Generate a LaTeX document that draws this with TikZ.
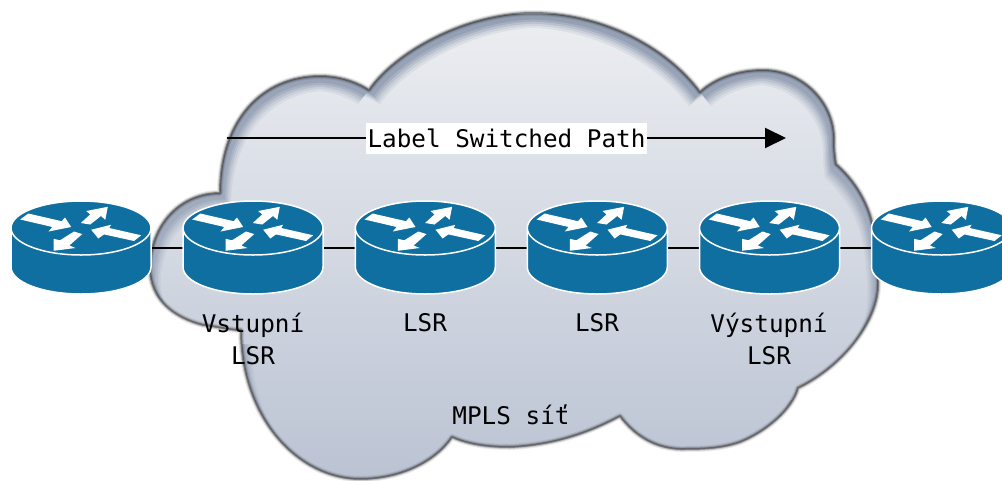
\documentclass[tikz,border=0pt]{standalone}
\usepackage{fontspec}
\setmonofont{DejaVu Sans Mono}
\usetikzlibrary{arrows.meta}
\definecolor{routerblue}{HTML}{0F6FA0}
\definecolor{cloudtop}{HTML}{ECEEF1}
\definecolor{cloudbot}{HTML}{BBC3D3}
\definecolor{bevtop}{HTML}{939FB3}
\definecolor{bevbot}{HTML}{B4BCCD}
\def\cloudpath{(369,90) .. controls (395,52) and (465,13) .. (533,13)
 .. controls (600,13) and (665,45) .. (700,92)
 .. controls (715,78) and (738,70) .. (763,70)
 .. controls (805,70) and (835,105) .. (834,140)
 .. controls (834,150) and (835,158) .. (836,164)
 .. controls (852,178) and (866,198) .. (872,222)
 .. controls (877,245) and (879,270) .. (878,287)
 .. controls (877,320) and (845,365) .. (798,388)
 .. controls (792,410) and (765,432) .. (740,442)
 .. controls (720,449) and (700,449) .. (680,449)
 .. controls (655,448) and (635,436) .. (620,416)
 .. controls (590,432) and (555,445) .. (510,447)
 .. controls (490,447) and (470,445) .. (452,437)
 .. controls (435,462) and (400,479) .. (360,479)
 .. controls (300,479) and (241,420) .. (241,330)
 .. controls (228,330) and (215,326) .. (203,325)
 .. controls (175,318) and (150,300) .. (150,268)
 .. controls (150,225) and (180,193) .. (220,193)
 .. controls (220,120) and (262,76) .. (320,76)
 .. controls (338,76) and (355,81) .. (369,90) -- cycle}
\tikzset{
 routerbox/.style={minimum width=140pt,minimum height=93pt,inner sep=0pt},
 caption/.style={font=\ttfamily\fontsize{24.3}{32}\selectfont,align=center,inner sep=0pt,text=black},
 link/.style={draw=black,line width=2pt},
 lsplabel/.style={font=\ttfamily\fontsize{24.3}{30}\selectfont,fill=white,inner xsep=1.5pt,inner ysep=0pt,minimum height=31pt,text=black},
 lspline/.style={draw=black,line width=2pt}
}
\newcommand{\routerart}[1]{%
 \begin{scope}[shift={(#1)}]
  \fill[routerblue,draw=white,line width=1.5pt] (-70,-19.5) -- (-70,19.5)
    .. controls (-70,34.5) and (-38.7,46.5) .. (0,46.5)
    .. controls (38.7,46.5) and (70,34.5) .. (70,19.5) -- (70,-19.5) -- cycle;
  \fill[routerblue,draw=white,line width=1.5pt] (0,-19.5) ellipse [x radius=70pt,y radius=27pt];
  \begin{scope}[shift={(0,-19.5)}]
  \fill[white] (-60.8,-8.5) -- (-52.7,-14.5) -- (-19.3,-6.8) -- (-16,-10.5) -- (-9.8,-1) -- (-32.5,3.5) -- (-28.7,-1) -- cycle;
  \fill[white] (-0.2,-5) -- (9.2,-13.6) -- (5.2,-17) -- (26.8,-21.2) -- (24.3,-8.2) -- (20,-12) -- (9.2,-3.5) -- cycle;
  \fill[white] (10.2,1.7) -- (30,-3.2) -- (28.3,0) -- (60.2,7.3) -- (53,13) -- (23,6.4) -- (17.3,10.5) -- cycle;
  \fill[white] (-27.5,22.8) -- (-27.5,10.8) -- (-21,12.3) -- (-7,3.5) -- (1.2,6.1) -- (-11.7,17.5) -- (-5.5,20) -- cycle;
  \end{scope}
 \end{scope}}
\begin{document}
\begin{tikzpicture}[x=1pt,y=-1pt]
\useasboundingbox (0,0) rectangle (1002,480);
\clip (0,0) rectangle (1002,480);
% cloud body
\begin{scope}
 \clip \cloudpath;
 \shade[top color=bevtop,bottom color=bevbot] (0,14) rectangle (1002,480);
 \foreach \dx/\dy/\op in {5/6.5/.2,6.5/8.5/.3,8/10.5/.4,9.5/12.5/.55,11/14.5/1}{
  \begin{scope}
   \clip[shift={(\dx,\dy)}] \cloudpath;
   \clip[shift={(-\dx,\dy)}] \cloudpath;
   \shade[top color=cloudtop,bottom color=cloudbot,opacity=\op] (0,14) rectangle (1002,480);
  \end{scope}
 }
\end{scope}
% cloud outline
\draw[black,opacity=.08,line width=6pt,line join=round] \cloudpath;
\draw[black,opacity=.15,line width=4pt,line join=round] \cloudpath;
\draw[black!80,opacity=.5,line width=2pt,line join=round] \cloudpath;
% routers
\node[routerbox] (r1) at (81,247.5) {};
\node[routerbox] (r2) at (253,247.5) {};
\node[routerbox] (r3) at (425.3,247.5) {};
\node[routerbox] (r4) at (597.3,247.5) {};
\node[routerbox] (r5) at (769.5,247.5) {};
\node[routerbox] (r6) at (941.5,247.5) {};
\draw[link] (r1.east) -- (r2.west);
\draw[link] (r2.east) -- (r3.west);
\draw[link] (r3.east) -- (r4.west);
\draw[link] (r4.east) -- (r5.west);
\draw[link] (r5.east) -- (r6.west);
\routerart{81,247.5}
\routerart{253,247.5}
\routerart{425.3,247.5}
\routerart{597.3,247.5}
\routerart{769.5,247.5}
\routerart{941.5,247.5}
% label switched path
\coordinate (lspstart) at (227,138);
\coordinate (lspend) at (786,138);
\node[lsplabel] (lsp) at (506.5,138) {Label Switched Path};
\draw[lspline] (lspstart) -- (lsp.west);
\draw[lspline,-{Triangle[length=21pt,width=20pt]}] (lsp.east) -- (lspend);
% captions
\node[caption] (c2) at (253,339) {Vstupní\\LSR};
\node[caption] (c3) at (425,323) {LSR};
\node[caption] (c4) at (597,323) {LSR};
\node[caption] (c5) at (769,339) {Výstupní\\LSR};
\node[caption] (c6) at (511,415) {MPLS síť};
\end{tikzpicture}
\end{document}
